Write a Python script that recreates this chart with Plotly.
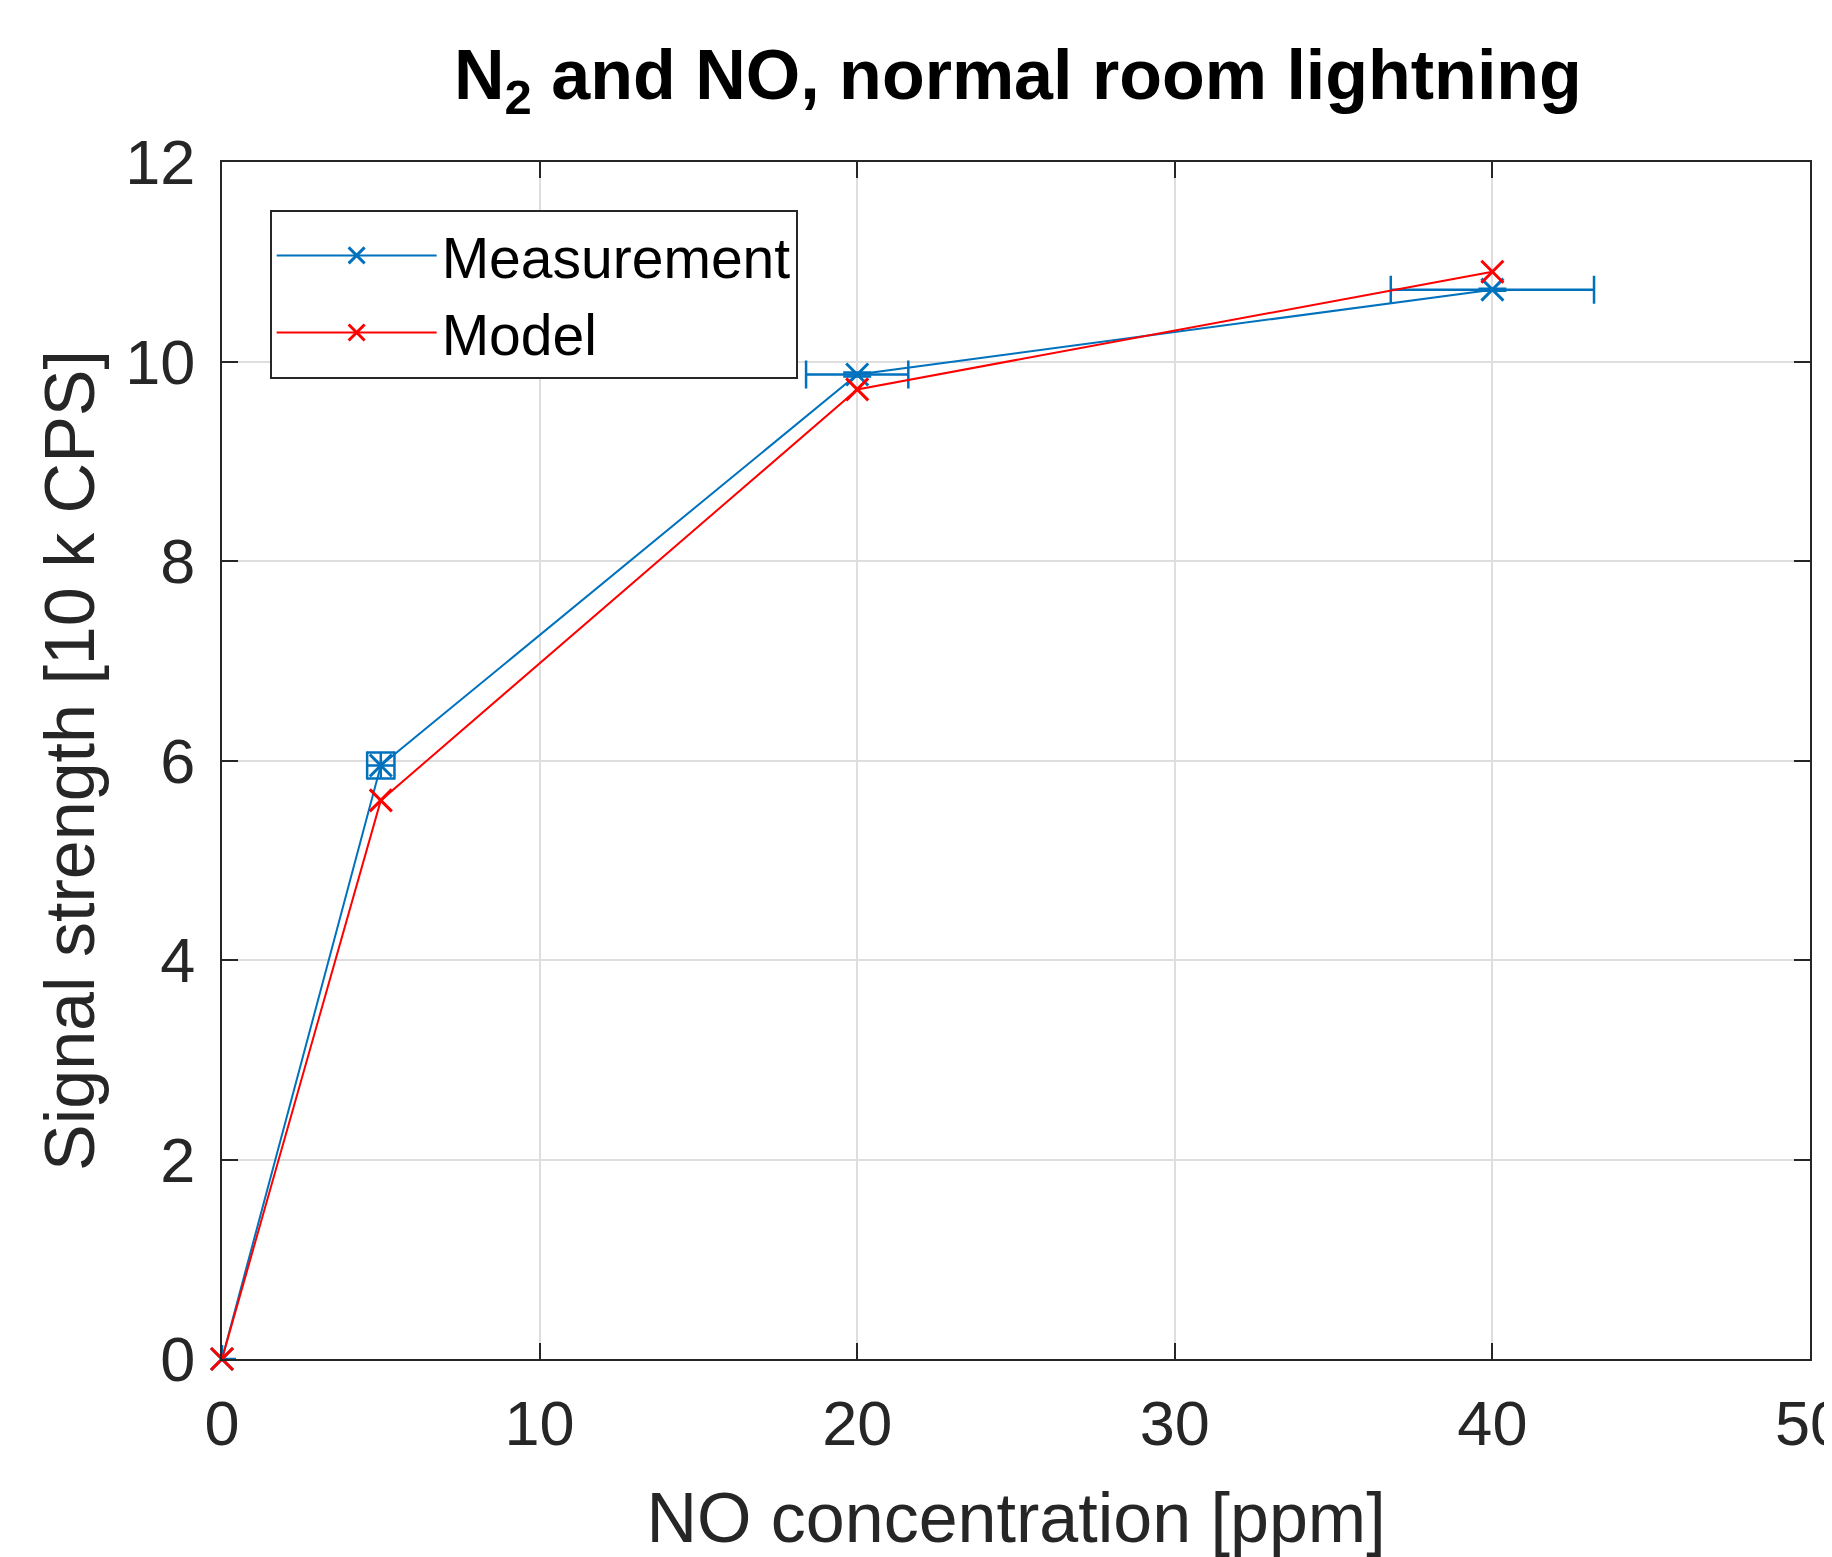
import plotly.graph_objects as go

conc = [0, 5, 20, 40]
meas = [0.0, 5.95, 9.87, 10.72]
meas_xerr = [0.0, 0.43, 1.61, 3.2]
meas_yerr = [0.0, 0.13, 0.02, 0.01]
model = [0.0, 5.60, 9.72, 10.90]

x_ticks = [0, 10, 20, 30, 40, 50]
y_ticks = [0, 2, 4, 6, 8, 10, 12]

FONT = "Liberation Sans, Arial, sans-serif"
AX = "#262626"
BLUE = "#0072BD"
RED = "#FF0000"

fig = go.Figure()
fig.add_trace(go.Scatter(
    x=conc, y=meas, name="Measurement", mode="lines+markers",
    line=dict(color=BLUE, width=2),
    marker=dict(symbol="x-thin", size=22, line=dict(color=BLUE, width=3)),
    error_x=dict(type="data", array=meas_xerr, color=BLUE, thickness=2.5, width=14),
    error_y=dict(type="data", array=meas_yerr, color=BLUE, thickness=2.5, width=14),
    cliponaxis=False,
))
fig.add_trace(go.Scatter(
    x=conc, y=model, name="Model", mode="lines+markers",
    line=dict(color=RED, width=2),
    marker=dict(symbol="x-thin", size=22, line=dict(color=RED, width=3)),
    cliponaxis=False,
))

axis_common = dict(
    showline=True, linecolor=AX, linewidth=2, mirror="ticks",
    ticks="inside", ticklen=16, tickwidth=1.5, tickcolor=AX,
    showgrid=True, gridcolor="#DEDEDE", gridwidth=1.5,
    zeroline=False, automargin=False,
    tickfont=dict(family=FONT, size=63, color=AX),
)

fig.update_xaxes(range=[0, 50], tickvals=x_ticks, ticktext=[str(v) for v in x_ticks],
                 ticklabelstandoff=8, ticklabeloverflow="allow",
                 title=dict(text="NO concentration [ppm]", font=dict(family=FONT, size=70, color=AX), standoff=40),
                 **axis_common)
fig.update_yaxes(range=[0, 12], tickvals=y_ticks, ticktext=[str(v) for v in y_ticks],
                 ticklabelstandoff=12,
                 title=dict(text="Signal strength [10 k CPS]", font=dict(family=FONT, size=70, color=AX), standoff=8),
                 **axis_common)

fig.update_layout(
    width=1824, height=1549,
    margin=dict(l=214, r=22, t=154, b=198),
    paper_bgcolor="white", plot_bgcolor="white",
    title=dict(text="<b>N<sub>2</sub> and NO, normal room lightning</b>",
               font=dict(family=FONT, size=70, color="black"),
               x=0.5537, xanchor="center", y=0.957, yanchor="middle", automargin=False),
    legend=dict(x=0.03, y=0.96, xanchor="left", yanchor="top",
                bgcolor="white", bordercolor=AX, borderwidth=2,
                font=dict(family=FONT, size=57, color="black"),
                itemwidth=160, tracegroupgap=0),
    showlegend=True,
)

fig.write_html("out.html")
